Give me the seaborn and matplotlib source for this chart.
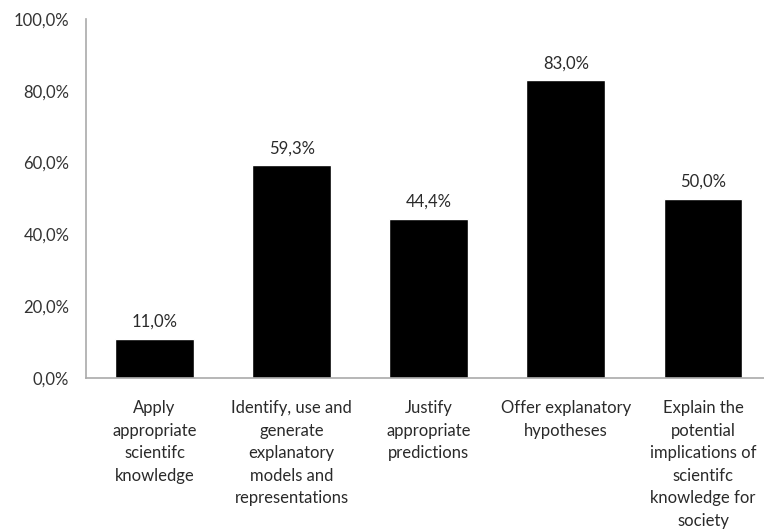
import matplotlib
matplotlib.use("Agg")
import matplotlib.pyplot as plt
import seaborn as sns
import pandas as pd

categories = [
    "Apply\nappropriate\nscientifc\nknowledge",
    "Identify, use and\ngenerate\nexplanatory\nmodels and\nrepresentations",
    "Justify\nappropriate\npredictions",
    "Offer explanatory\nhypotheses",
    "Explain the\npotential\nimplications of\nscientifc\nknowledge for\nsociety",
]
values = [11.0, 59.3, 44.4, 83.0, 50.0]
yticks = [0, 20, 40, 60, 80, 100]

sns.set_theme(style="white")
plt.rcParams["font.family"] = ["Lato", "DejaVu Sans"]

df = pd.DataFrame({"cat": categories, "val": values})

fig = plt.figure(figsize=(7.64, 5.30), dpi=100)
ax = fig.add_axes([86 / 764, 1 - 378 / 530, 1 - 86 / 764, (378 - 19) / 530])

sns.barplot(data=df, x="cat", y="val", color="black", width=0.575,
            saturation=1, ax=ax)

fs = 12
for i, v in enumerate(values):
    ax.text(i, v + 3.2, f"{v:.1f}%".replace(".", ","), ha="center",
            va="baseline", fontsize=fs, color="#2a2a2a")

ax.set_ylim(0, 100)
ax.set_xlim(-0.5, 4.445)
ax.set_yticks(yticks)
ax.set_yticklabels([f"{t:.1f}%".replace(".", ",") for t in yticks],
                   fontsize=fs, color="#333333")
ax.set_xticks(range(len(categories)))
ax.set_xticklabels(categories, fontsize=fs, color="#2a2a2a", linespacing=1.5,
                   va="top")
ax.tick_params(axis="x", length=0, pad=16)
ax.tick_params(axis="y", length=0, pad=12)
ax.set_xlabel("")
ax.set_ylabel("")

for side in ["top", "right"]:
    ax.spines[side].set_visible(False)
for side in ["left", "bottom"]:
    ax.spines[side].set_color("#aaaaaa")
    ax.spines[side].set_linewidth(1.2)

fig.savefig("out.png", dpi=100, facecolor="white")
